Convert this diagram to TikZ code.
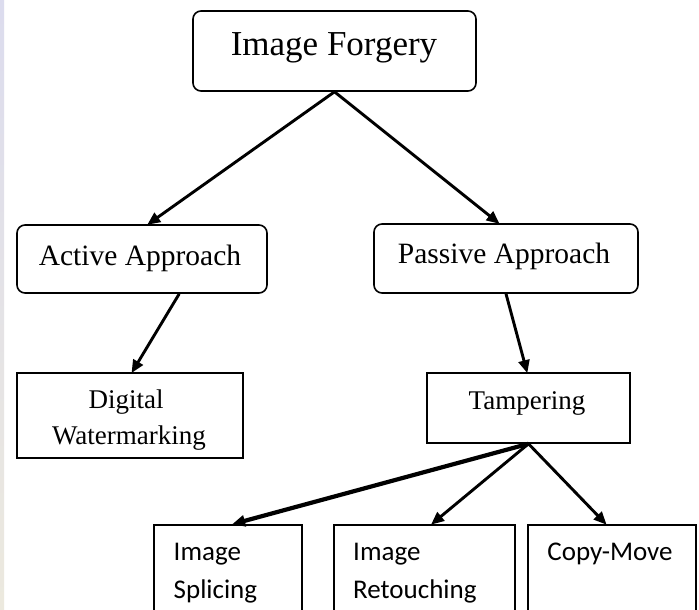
\documentclass[tikz,border=0pt]{standalone}
\usepackage{fontspec}
\setmainfont{Liberation Serif}
\newfontfamily\carlito{Carlito}
\usetikzlibrary{arrows.meta,calc}
\definecolor{stripetop}{HTML}{DCDCEE}
\definecolor{stripebot}{HTML}{ECE9DE}
\tikzset{
  rbox/.style={draw, rounded corners=8pt, line width=1.6pt, inner sep=0pt},
  sbox/.style={draw, line width=1.6pt, inner sep=0pt},
  lbl/.style={inner sep=0pt, anchor=base},
  conn/.style={line width=2.9pt, -{Triangle[length=13pt,width=11pt]}, shorten >=-1pt},
  thick conn/.style={conn, line width=4.2pt}
}
\begin{document}
\begin{tikzpicture}[x=1pt,y=-1pt]
\clip (0,0) rectangle (699,610);
\fill[white] (0,0) rectangle (699,610);
\shade[top color=stripetop, bottom color=stripebot, draw=none] (0,0) rectangle (4,610);

% boxes
\node[rbox, minimum width=283pt, minimum height=80pt] (forgery) at (334.5,51) {};
\node[rbox, minimum width=250pt, minimum height=68pt] (active) at (142,259) {};
\node[rbox, minimum width=264pt, minimum height=69pt] (passive) at (506,258.5) {};
\node[sbox, minimum width=226pt, minimum height=85pt] (digital) at (130,415.5) {};
\node[sbox, minimum width=203pt, minimum height=70pt] (tamper) at (528.5,408) {};
\node[sbox, minimum width=148pt, minimum height=100pt, anchor=north] (splice) at (228,524) {};
\node[sbox, minimum width=181pt, minimum height=100pt, anchor=north] (retouch) at (424.5,524) {};
\node[sbox, minimum width=168pt, minimum height=100pt, anchor=north] (copymove) at (612,524) {};

% texts
\node[lbl, font=\fontsize{35}{40}\selectfont] (tforgery) at (334,56) {Image Forgery};
\node[lbl, font=\fontsize{29.5}{34}\selectfont] (tactive) at (140,265) {Active Approach};
\node[lbl, font=\fontsize{29.5}{34}\selectfont] (tpassive) at (504,263) {Passive Approach};
\node[lbl, font=\fontsize{27}{32}\selectfont] (tdigital1) at (126,408) {Digital};
\node[lbl, font=\fontsize{27}{32}\selectfont] (tdigital2) at (129,444) {Watermarking};
\node[lbl, font=\fontsize{27}{32}\selectfont] (ttamper) at (527,409) {Tampering};
\node[lbl, anchor=base west, font=\carlito\fontsize{27}{32}\selectfont] (tsplice1) at (173.5,560) {Image};
\node[lbl, anchor=base west, font=\carlito\fontsize{27}{32}\selectfont] (tsplice2) at (173.5,598) {Splicing};
\node[lbl, anchor=base west, font=\carlito\fontsize{27}{32}\selectfont] (tretouch1) at (353,560) {Image};
\node[lbl, anchor=base west, font=\carlito\fontsize{27}{32}\selectfont] (tretouch2) at (353,598) {Retouching};
\node[lbl, font=\carlito\fontsize{27}{32}\selectfont] (tcopy) at (610,560) {Copy-Move};

% connectors
\draw[conn] (forgery.south) -- ($(active.north west)!0.524!(active.north east)$);
\draw[conn] (forgery.south) -- ($(passive.north west)!0.473!(passive.north east)$);
\draw[conn] ($(active.south west)!0.648!(active.south east)$) -- ($(digital.north west)!0.509!(digital.north east)$);
\draw[conn] (passive.south) -- ($(tamper.north west)!0.493!(tamper.north east)$);
\draw[thick conn] (tamper.south) -- ($(splice.north west)!0.534!(splice.north east)$);
\draw[conn] (tamper.south) -- ($(retouch.north west)!0.54!(retouch.north east)$);
\draw[conn] (tamper.south) -- ($(copymove.north west)!0.464!(copymove.north east)$);
\end{tikzpicture}
\end{document}
